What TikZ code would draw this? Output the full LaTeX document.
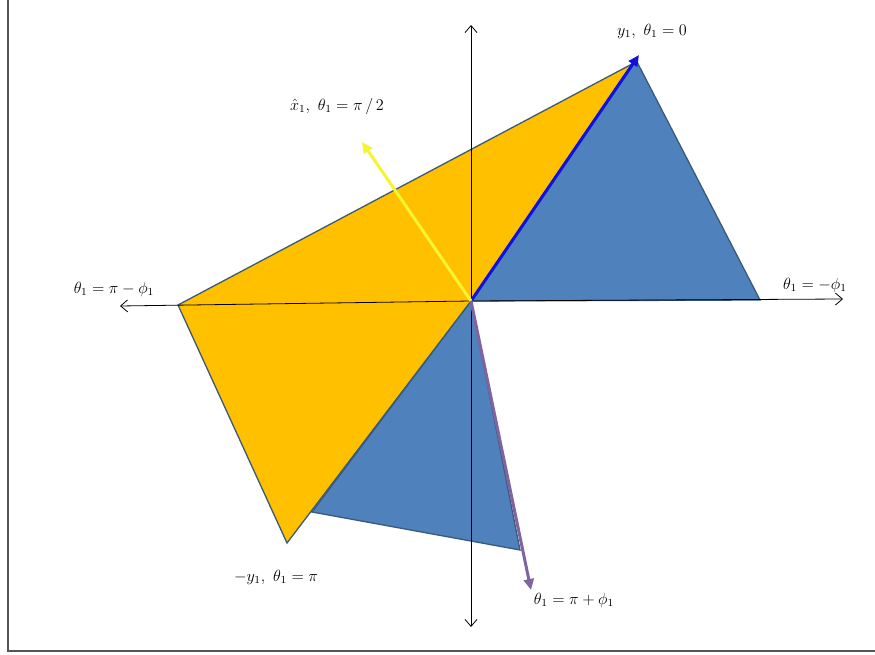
\documentclass[tikz,border=0pt]{standalone}
\usetikzlibrary{arrows.meta}
\definecolor{triyellow}{HTML}{FFC000}
\definecolor{triblue}{HTML}{4F81BD}
\definecolor{triedge}{HTML}{3A5A78}
\definecolor{arrblue}{HTML}{1010E0}
\definecolor{arryellow}{HTML}{F4F430}
\definecolor{arrpurple}{HTML}{8064A2}
\definecolor{framegray}{HTML}{555555}
\begin{document}
\begin{tikzpicture}[x=1pt,y=-1pt,
  tri/.style={draw=triedge,line width=1.3pt,line join=miter},
  axis/.style={draw=black,line width=0.8pt,-{Straight Barb[length=7pt,width=12pt]}},
  vec/.style={line width=3pt,-{Triangle[length=11pt,width=10pt]}},
  lab/.style={font=\large,inner sep=0pt,scale=1.35,transform shape}]
\useasboundingbox (0,0) rectangle (875,655);
% frame
\draw[framegray,line width=1.5pt] (8,0) -- (8,651) -- (875,651);
% coordinates
\coordinate (O) at (471,301);
\coordinate (bt) at (636,60);
\coordinate (br) at (760,300);
\coordinate (lb1) at (520,550);
\coordinate (lb2) at (312,512);
\coordinate (yl) at (178,305);
\coordinate (yt) at (632,64);
\coordinate (yb) at (287,543);
% triangles
\filldraw[tri,fill=triblue] (O) -- (bt) -- (br) -- cycle;
\filldraw[tri,fill=triblue] (O) -- (lb1) -- (lb2) -- cycle;
\filldraw[tri,fill=triyellow] (yl) -- (yt) -- (O) -- (yb) -- cycle;
% axes
\coordinate (al) at (120,306);
\coordinate (ar) at (843,299);
\coordinate (at) at (471,25);
\coordinate (ab) at (471,627);
\draw[axis] (O) -- (al);
\draw[axis] (O) -- (ar);
\draw[axis] (O) -- (at);
\draw[axis] (O) -- (ab);
% vectors
\coordinate (vb) at (639,55);
\coordinate (vy) at (362,142);
\coordinate (vp) at (531,590);
\draw[vec,arrblue] (O) -- (vb);
\draw[vec,arryellow] (O) -- (vy);
\draw[vec,arrpurple] (O) -- (vp);
% labels
\node[lab] (l1) at (652,31) {$y_1,\ \theta_1 = 0$};
\node[lab] (l2) at (337,106) {$\hat{x}_1,\ \theta_1 = \pi\,/\,2$};
\node[lab] (l3) at (114,289) {$\theta_1 = \pi - \phi_1$};
\node[lab] (l4) at (815,285) {$\theta_1 = -\phi_1$};
\node[lab] (l5) at (276,577) {$-y_1,\ \theta_1 = \pi$};
\node[lab] (l6) at (574,600) {$\theta_1 = \pi + \phi_1$};
\end{tikzpicture}
\end{document}
